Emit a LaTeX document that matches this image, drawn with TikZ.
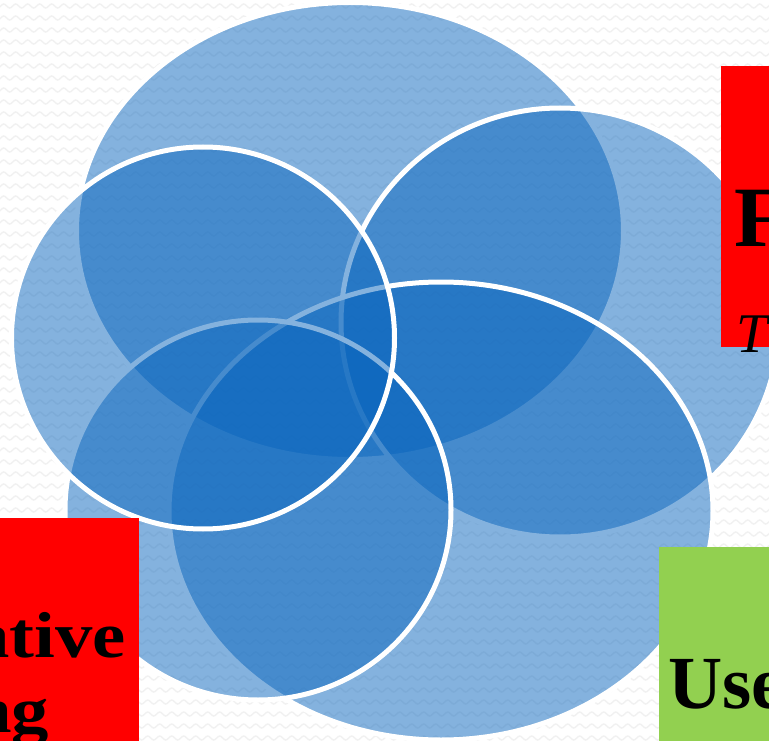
\documentclass[tikz,border=0pt]{standalone}
\usepackage{fontspec}
\setmainfont{Liberation Serif}
\newfontfamily\wideserif[FakeStretch=1.15]{Liberation Serif}
\usetikzlibrary{decorations.pathmorphing}
\definecolor{vennblue}{RGB}{10,102,190}
\definecolor{boxred}{RGB}{255,0,0}
\definecolor{boxgreen}{RGB}{146,208,80}
\definecolor{wavegray}{RGB}{241,241,241}
\begin{document}
\begin{tikzpicture}[x=1pt,y=-1pt,
  venn/.style={fill=vennblue, fill opacity=0.5, draw=white, draw opacity=1, line width=5pt},
  txt/.style={inner sep=0pt, anchor=base west, text=black},
  wavy/.style={draw=wavegray, line width=1.4pt, decorate,
    decoration={snake, segment length=12pt, amplitude=2pt}}]
\useasboundingbox (0,0) rectangle (769,741);
\clip (0,0) rectangle (769,741);
\fill[white] (0,0) rectangle (769,741);
\foreach \r in {0,...,62} \draw[wavy] (-12,{6+12*\r}) -- (792,{6+12*\r});
% ellipses, bottom layer first
\draw[venn] (350,231) ellipse [x radius=273.5, y radius=228.5];
\draw[venn] (560,322.5) ellipse [x radius=219, y radius=214.5];
\draw[venn] (441,511) ellipse [x radius=272, y radius=229];
\draw[venn] (258,510) ellipse [x radius=193, y radius=190];
\draw[venn] (203,338) ellipse [x radius=191.5, y radius=191];
% boxes
\fill[boxred] (721,66) rectangle (790,347);
\fill[boxred] (-10,518) rectangle (139,760);
\fill[boxgreen] (659,547) rectangle (790,760);
% texts
\node[txt, font=\fontsize{86}{86}\bfseries\selectfont] (f) at (734,247) {F};
\node[txt, font=\fontsize{56}{56}\itshape\selectfont] (t) at (736,352) {T};
\node[txt, font=\wideserif\fontsize{65}{65}\bfseries\selectfont] (ative) at (-28,657) {ative};
\node[txt, font=\wideserif\fontsize{65}{65}\bfseries\selectfont] (ng) at (-30,732) {ng};
\node[txt, font=\fontsize{75}{75}\bfseries\selectfont] (use) at (668,708) {Use};
\end{tikzpicture}
\end{document}
